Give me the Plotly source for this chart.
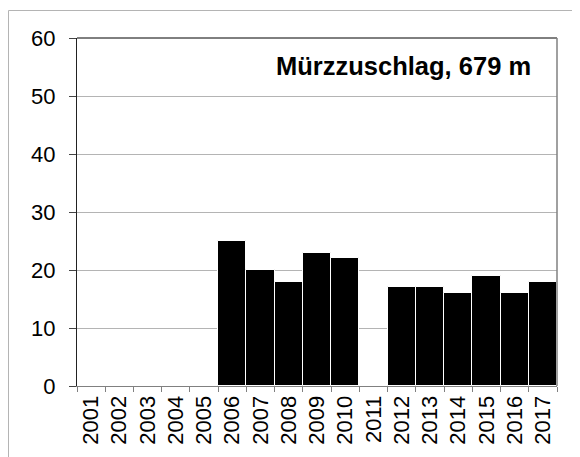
import plotly.graph_objects as go

years = [str(y) for y in range(2001, 2018)]
values = [0, 0, 0, 0, 0, 25, 20, 18, 23, 22, 0, 17, 17, 16, 19, 16, 18]
title_text = "Mürzzuschlag, 679 m"

# page has an 8px body margin; figure coordinates below are relative to figure
W, H = 572, 449
L, R, T, B = 69, 23, 30, 71
pw, ph = W - L - R, H - T - B

def px(x):
    return (x - L) / pw

def py(y):
    return (H - B - y) / ph

fig = go.Figure(go.Bar(
    x=years, y=values,
    marker=dict(color="black", line=dict(color="white", width=1)),
))

fig.update_layout(
    width=W, height=H,
    margin=dict(l=L, r=R, t=T, b=B, autoexpand=False),
    paper_bgcolor="white", plot_bgcolor="white",
    bargap=0, showlegend=False,
    font=dict(family="Arial", color="black"),
    xaxis=dict(
        type="category", tickangle=-90, tickfont=dict(size=22),
        ticks="outside", tickson="boundaries", ticklen=5, tickcolor="#808080",
        showline=True, linecolor="#808080", linewidth=1,
        showgrid=False, zeroline=False, automargin=False,
    ),
    yaxis=dict(
        range=[0, 60], dtick=10, tickfont=dict(size=22),
        ticks="outside", ticklen=7, tickcolor="#444444",
        ticklabelstandoff=9,
        showline=True, linecolor="#222222", linewidth=1,
        showgrid=True, gridcolor="#b4b4b4", gridwidth=1,
        zeroline=False, automargin=False,
    ),
    shapes=[
        dict(type="line", xref="paper", yref="paper", x0=0, x1=1, y0=1, y1=1,
             line=dict(color="black", width=1)),
        dict(type="line", xref="paper", yref="paper", x0=1, x1=1, y0=0, y1=1,
             line=dict(color="#808080", width=1.5)),
        dict(type="rect", xref="paper", yref="paper", x0=px(0.5), x1=px(700), y0=py(2.5), y1=py(600),
             line=dict(color="#b4b4b4", width=1), fillcolor="rgba(0,0,0,0)", layer="below"),
    ],
    annotations=[
        dict(text="<b>" + title_text + "</b>", xref="paper", yref="paper",
             x=px(525), y=py(58), xanchor="right", yanchor="middle",
             showarrow=False, font=dict(size=25.5, color="black")),
    ],
)

fig.write_html("out.html")
